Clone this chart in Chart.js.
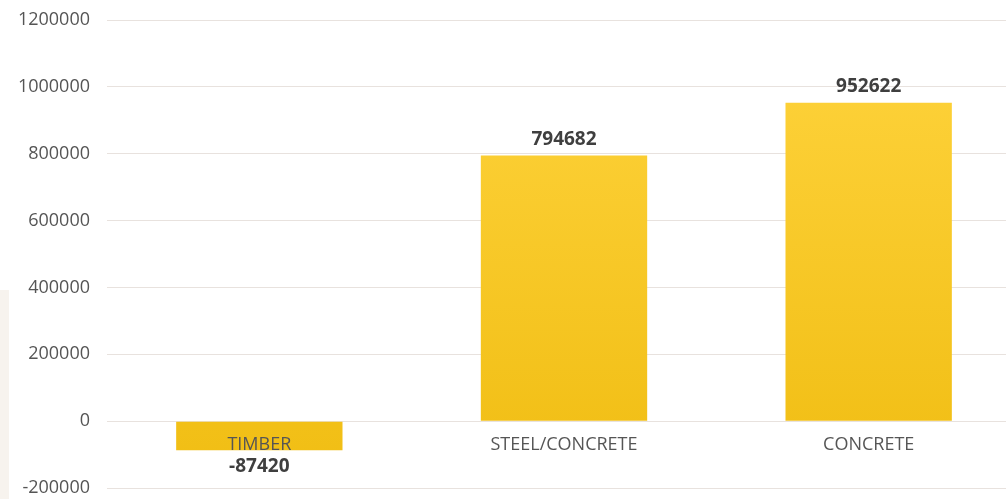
<!DOCTYPE html>
<html><head><meta charset="utf-8">
<script src="https://cdn.jsdelivr.net/npm/chart.js@4"></script>
<style>
html,body{margin:0;padding:0;background:#fff;overflow:hidden;}
#wrap{position:relative;width:1021px;height:499px;}
#strip{position:absolute;left:0;top:290px;width:9px;height:209px;background:#f7f3ee;}
</style></head><body>
<div id="wrap"><div id="strip"></div><canvas id="c" width="1021" height="499"></canvas></div>
<script>
const categories = ["TIMBER", "STEEL/CONCRETE", "CONCRETE"];
const values = [-87420, 794682, 952622];
const yTicks = [-200000, 0, 200000, 400000, 600000, 800000, 1000000, 1200000];

const FONT = "'Open Sans', 'DejaVu Sans', sans-serif";

const labelPlugin = {
  id: 'labels',
  afterDatasetsDraw(chart) {
    const ctx = chart.ctx;
    const meta = chart.getDatasetMeta(0);
    const y = chart.scales.y;
    const zeroY = y.getPixelForValue(0);
    ctx.save();
    ctx.textAlign = 'center';
    ctx.textBaseline = 'middle';
    meta.data.forEach((bar, i) => {
      const v = values[i];
      ctx.font = "bold 19px " + FONT;
      ctx.fillStyle = '#3f3f3f';
      const vy = v >= 0 ? y.getPixelForValue(v) - 16 : y.getPixelForValue(v) + 16;
      ctx.fillText(String(v), bar.x, vy);
      ctx.font = "18px " + FONT;
      ctx.fillStyle = '#555555';
      ctx.fillText(categories[i], bar.x, zeroY + 24);
    });
    ctx.restore();
  }
};

const ctx = document.getElementById('c').getContext('2d');
new Chart(ctx, {
  type: 'bar',
  data: {
    labels: categories,
    datasets: [{
      data: values,
      backgroundColor: (c) => {
        const ch = c.chart;
        const area = ch.chartArea;
        if (!area) return '#f7c623';
        const g = ch.ctx.createLinearGradient(0, area.top, 0, area.bottom);
        g.addColorStop(0, '#ffd43e');
        g.addColorStop(1, '#f0bd12');
        return g;
      },
      borderWidth: 0,
      barPercentage: 1,
      categoryPercentage: 0.546
    }]
  },
  options: {
    responsive: false,
    animation: false,
    devicePixelRatio: 1,
    layout: { padding: { top: 20, bottom: 11, left: 0, right: 0 } },
    plugins: { legend: { display: false }, tooltip: { enabled: false } },
    scales: {
      x: { display: false, grid: { display: false } },
      y: {
        min: -200000, max: 1200000,
        afterFit: (s) => { s.width = 107; s.paddingTop = 0; s.paddingBottom = 0; },
        afterBuildTicks: (s) => { s.ticks = yTicks.map(v => ({ value: v })); },
        border: { display: false },
        grid: { color: '#e8e2de', lineWidth: 1, drawTicks: false },
        ticks: {
          padding: 17,
          color: '#555555',
          font: { family: FONT, size: 18 },
          callback: (v) => String(v)
        }
      }
    }
  },
  plugins: [labelPlugin]
});
</script>
</body></html>
